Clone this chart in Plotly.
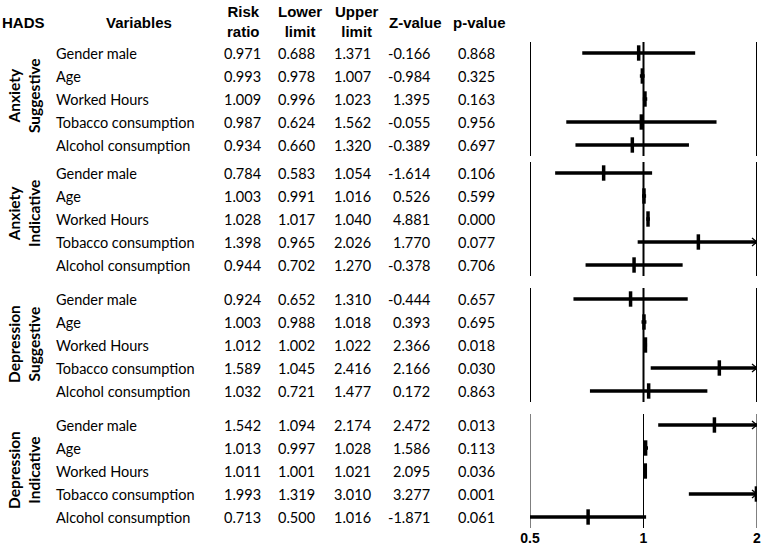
import math
import plotly.graph_objects as go

# ---------------- data ----------------
group_labels = ["Anxiety<br>Suggestive", "Anxiety<br>Indicative",
                "Depression<br>Suggestive", "Depression<br>Indicative"]
variables = ["Gender male", "Age", "Worked Hours", "Tobacco consumption", "Alcohol consumption"]

risk_ratio = [0.971, 0.993, 1.009, 0.987, 0.934,
              0.784, 1.003, 1.028, 1.398, 0.944,
              0.924, 1.003, 1.012, 1.589, 1.032,
              1.542, 1.013, 1.011, 1.993, 0.713]
lower_limit = [0.688, 0.978, 0.996, 0.624, 0.660,
               0.583, 0.991, 1.017, 0.965, 0.702,
               0.652, 0.988, 1.002, 1.045, 0.721,
               1.094, 0.997, 1.001, 1.319, 0.500]
upper_limit = [1.371, 1.007, 1.023, 1.562, 1.320,
               1.054, 1.016, 1.040, 2.026, 1.270,
               1.310, 1.018, 1.022, 2.416, 1.477,
               2.174, 1.028, 1.021, 3.010, 1.016]
z_value = ["-0.166", "-0.984", "1.395", "-0.055", "-0.389",
           "-1.614", "0.526", "4.881", "1.770", "-0.378",
           "-0.444", "0.393", "2.366", "2.166", "0.172",
           "2.472", "1.586", "2.095", "3.277", "-1.871"]
p_value = ["0.868", "0.325", "0.163", "0.956", "0.697",
           "0.106", "0.599", "0.000", "0.077", "0.706",
           "0.657", "0.695", "0.018", "0.030", "0.863",
           "0.013", "0.113", "0.036", "0.001", "0.061"]

x_ticks = [0.5, 1, 2]
x_ticktext = ["0.5", "1", "2"]

# ---------------- layout constants ----------------
W, H = 773, 551
X_MIN, X_MAX = 0.5, 2.0
first_row_y = [53, 173, 299, 425]      # pixel y of first row in each group
ROW_STEP = 23
group_label_y = [96, 214, 344, 470]
vline_width = [2, 2, 2, 1]

DATA_FONT = "Lato"
HEAD_FONT = "Liberation Sans, Arial"

def px(xpix):
    return xpix / W

fig = go.Figure()

n_var = len(variables)
row_y = []
for g in range(len(group_labels)):
    for i in range(n_var):
        row_y.append(first_row_y[g] + ROW_STEP * i)

# vertical reference lines per group
for g in range(len(group_labels)):
    y_top = first_row_y[g] - 11
    y_bot = first_row_y[g] + ROW_STEP * (n_var - 1) + 11
    xs, ys = [], []
    for t in x_ticks:
        xs += [t, t, None]
        ys += [y_top, y_bot, None]
    fig.add_trace(go.Scatter(x=xs, y=ys, mode="lines",
                             line=dict(color="black", width=vline_width[g]),
                             hoverinfo="skip", showlegend=False))

# confidence intervals
ci_x, ci_y = [], []
arr_x, arr_y = [], []
arrow_back = 2 ** (-5 / 113.5)
for k in range(len(risk_ratio)):
    lo = max(lower_limit[k], X_MIN)
    hi = min(upper_limit[k], X_MAX)
    ci_x += [lo, hi, None]
    ci_y += [row_y[k], row_y[k], None]
    if upper_limit[k] > X_MAX:
        arr_x += [X_MAX * arrow_back, X_MAX, X_MAX * arrow_back, None]
        arr_y += [row_y[k] - 4, row_y[k], row_y[k] + 4, None]

fig.add_trace(go.Scatter(x=ci_x, y=ci_y, mode="lines",
                         line=dict(color="black", width=3.5),
                         hoverinfo="skip", showlegend=False))
fig.add_trace(go.Scatter(x=arr_x, y=arr_y, mode="lines",
                         line=dict(color="black", width=1.3),
                         hoverinfo="skip", showlegend=False))
fig.add_trace(go.Scatter(x=risk_ratio, y=row_y, mode="markers",
                         marker=dict(symbol="line-ns", size=11, color="black",
                                     line=dict(color="black", width=3.5)),
                         hoverinfo="skip", showlegend=False))

ann = []

def add_text(x, y, text, size, font, anchor="center", bold=False, angle=0):
    ann.append(dict(x=px(x), y=y, xref="paper", yref="y",
                    text=("<b>%s</b>" % text) if bold else text,
                    showarrow=False, xanchor=anchor, yanchor="middle",
                    textangle=angle,
                    font=dict(family=font, size=size, color="black")))

# headers
add_text(0, 22, "HADS", 15, HEAD_FONT, anchor="left", bold=True)
add_text(139, 22, "Variables", 15, HEAD_FONT, bold=True)
add_text(243, 21, "Risk<br>ratio", 15, HEAD_FONT, bold=True)
add_text(300, 21, "Lower<br>limit", 15, HEAD_FONT, bold=True)
add_text(357, 21, "Upper<br>limit", 15, HEAD_FONT, bold=True)
add_text(416, 22, "Z-value", 15, HEAD_FONT, bold=True)
add_text(480, 22, "p-value", 15, HEAD_FONT, bold=True)

# group labels
for g, lab in enumerate(group_labels):
    add_text(24, group_label_y[g], lab, 15.5, DATA_FONT, bold=True, angle=-90)

# rows
for k in range(len(risk_ratio)):
    y = row_y[k]
    add_text(54, y, variables[k % n_var], 14.5, DATA_FONT, anchor="left")
    add_text(242, y, "%.3f" % risk_ratio[k], 14.5, DATA_FONT)
    add_text(296, y, "%.3f" % lower_limit[k], 14.5, DATA_FONT)
    add_text(352, y, "%.3f" % upper_limit[k], 14.5, DATA_FONT)
    add_text(432, y, z_value[k], 14.5, DATA_FONT, anchor="right")
    add_text(476, y, p_value[k], 14.5, DATA_FONT)

fig.update_layout(
    width=W, height=H,
    margin=dict(l=0, r=0, t=0, b=0, autoexpand=False),
    paper_bgcolor="white", plot_bgcolor="white",
    annotations=ann,
    xaxis=dict(type="log", range=[math.log10(X_MIN), math.log10(X_MAX)],
               domain=[530 / W, 757 / W],
               tickmode="array", tickvals=x_ticks,
               ticktext=["<b>%s</b>" % t for t in x_ticktext],
               tickfont=dict(family=HEAD_FONT, size=14, color="black"),
               showgrid=False, zeroline=False, showline=False, ticks=""),
    yaxis=dict(range=[528, 0], domain=[(H - 528) / H, 1], visible=False,
               showgrid=False, zeroline=False),
)

fig.write_html("out.html", config={"displayModeBar": False},
               post_script="document.body.style.margin='0';document.body.style.overflow='hidden';")
